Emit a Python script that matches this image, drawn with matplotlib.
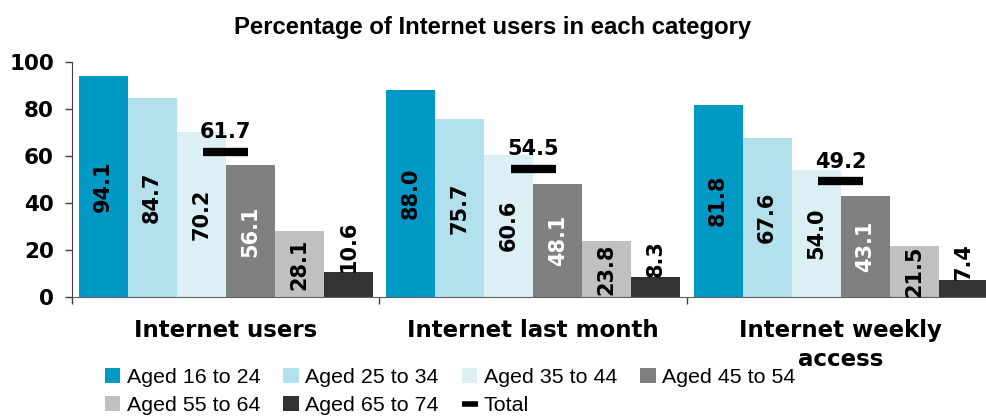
import numpy as np
import matplotlib
matplotlib.use("Agg")
import matplotlib.pyplot as plt
from matplotlib.lines import Line2D
from matplotlib.patches import Patch

categories = ["Internet users", "Internet last month", "Internet weekly\naccess"]
age_groups = ["Aged 16 to 24", "Aged 25 to 34", "Aged 35 to 44",
              "Aged 45 to 54", "Aged 55 to 64", "Aged 65 to 74"]

# 나이대별 값 (카테고리 순서대로)
aged_16_24 = [94.1, 88.0, 81.8]
aged_25_34 = [84.7, 75.7, 67.6]
aged_35_44 = [70.2, 60.6, 54.0]
aged_45_54 = [56.1, 48.1, 43.1]
aged_55_64 = [28.1, 23.8, 21.5]
aged_65_74 = [10.6, 8.3, 7.4]
total = [61.7, 54.5, 49.2]

series = [aged_16_24, aged_25_34, aged_35_44, aged_45_54, aged_55_64, aged_65_74]
colors = ["#0099C6", "#B2E0EC", "#DCEFF5", "#808080", "#C0C0C0", "#333333"]
text_colors = ["black", "black", "black", "white", "black", "black"]

yticks = [0, 20, 40, 60, 80, 100]

fig = plt.figure(figsize=(9.86, 4.17), dpi=100)
ax = fig.add_axes([0.073, 0.288, 0.9356, 0.5635])

x = np.arange(len(categories))
w = 0.1594

for i, vals in enumerate(series):
    pos = x + (i - 2.5) * w
    ax.bar(pos, vals, width=w, color=colors[i], linewidth=0, zorder=2)
    for px, v in zip(pos, vals):
        if i == len(series) - 1:
            # 마지막 막대는 라벨을 막대 위에
            ax.text(px, v, f"{v:.1f}", rotation=90, ha="center", va="bottom",
                    fontsize=15, fontweight="bold", color=text_colors[i], zorder=4)
        else:
            ax.text(px, v / 2, f"{v:.1f}", rotation=90, ha="center", va="center",
                    fontsize=15, fontweight="bold", color=text_colors[i], zorder=4)

# 전체 평균 표시 (가로 막대 + 값)
for g, t in zip(x, total):
    ax.plot([g - 0.46 * w, g + 0.46 * w], [t, t], color="black", lw=6,
            solid_capstyle="butt", zorder=3)
    ax.annotate(f"{t:.1f}", (g, t), xytext=(0, 7), textcoords="offset points",
                ha="center", va="bottom", fontsize=15, fontweight="bold", zorder=4)

ax.set_xlim(-0.5, 2.5)
ax.set_ylim(0, 100)
ax.set_yticks(yticks)
ax.set_yticklabels([str(t) for t in yticks], fontsize=15.5, fontweight="bold")
ax.tick_params(axis="y", length=5, width=1, color="#404040", pad=8)

ax.set_xticks(x)
ax.set_xticklabels(categories, fontsize=16.5, fontweight="bold", linespacing=1.3)
ax.tick_params(axis="x", which="major", length=0, pad=16)
ax.set_xticks(np.arange(-0.5, 3.0, 1.0), minor=True)
ax.tick_params(axis="x", which="minor", length=5, width=1, color="#404040")

for s in ["top", "right"]:
    ax.spines[s].set_visible(False)
ax.spines["left"].set_color("#404040")
ax.spines["bottom"].set_color("#606060")

fig.text(0.4995, 0.933, "Percentage of Internet users in each category",
         ha="center", va="center", fontsize=17.2, fontweight="bold",
         family="Liberation Sans")

# 범례: 행 우선 순서가 되도록 핸들 재배열
patches = [Patch(facecolor=c, edgecolor="none", label=l) for c, l in zip(colors, age_groups)]
tot_handle = Line2D([], [], color="black", marker="_", linestyle="none",
                    markersize=11, markeredgewidth=4, label="Total")
order = [patches[0], patches[4], patches[1], patches[5], patches[2], tot_handle, patches[3]]
fig.legend(handles=order, labels=[h.get_label() for h in order],
           loc="upper left", bbox_to_anchor=(0.0954, 0.143), ncol=4,
           frameon=False, borderpad=0, handlelength=0.72, handleheight=0.72,
           handletextpad=0.3, columnspacing=1.09, labelspacing=0.42,
           prop={"family": "Liberation Sans", "size": 15.4})

fig.savefig("out.png", dpi=100)
